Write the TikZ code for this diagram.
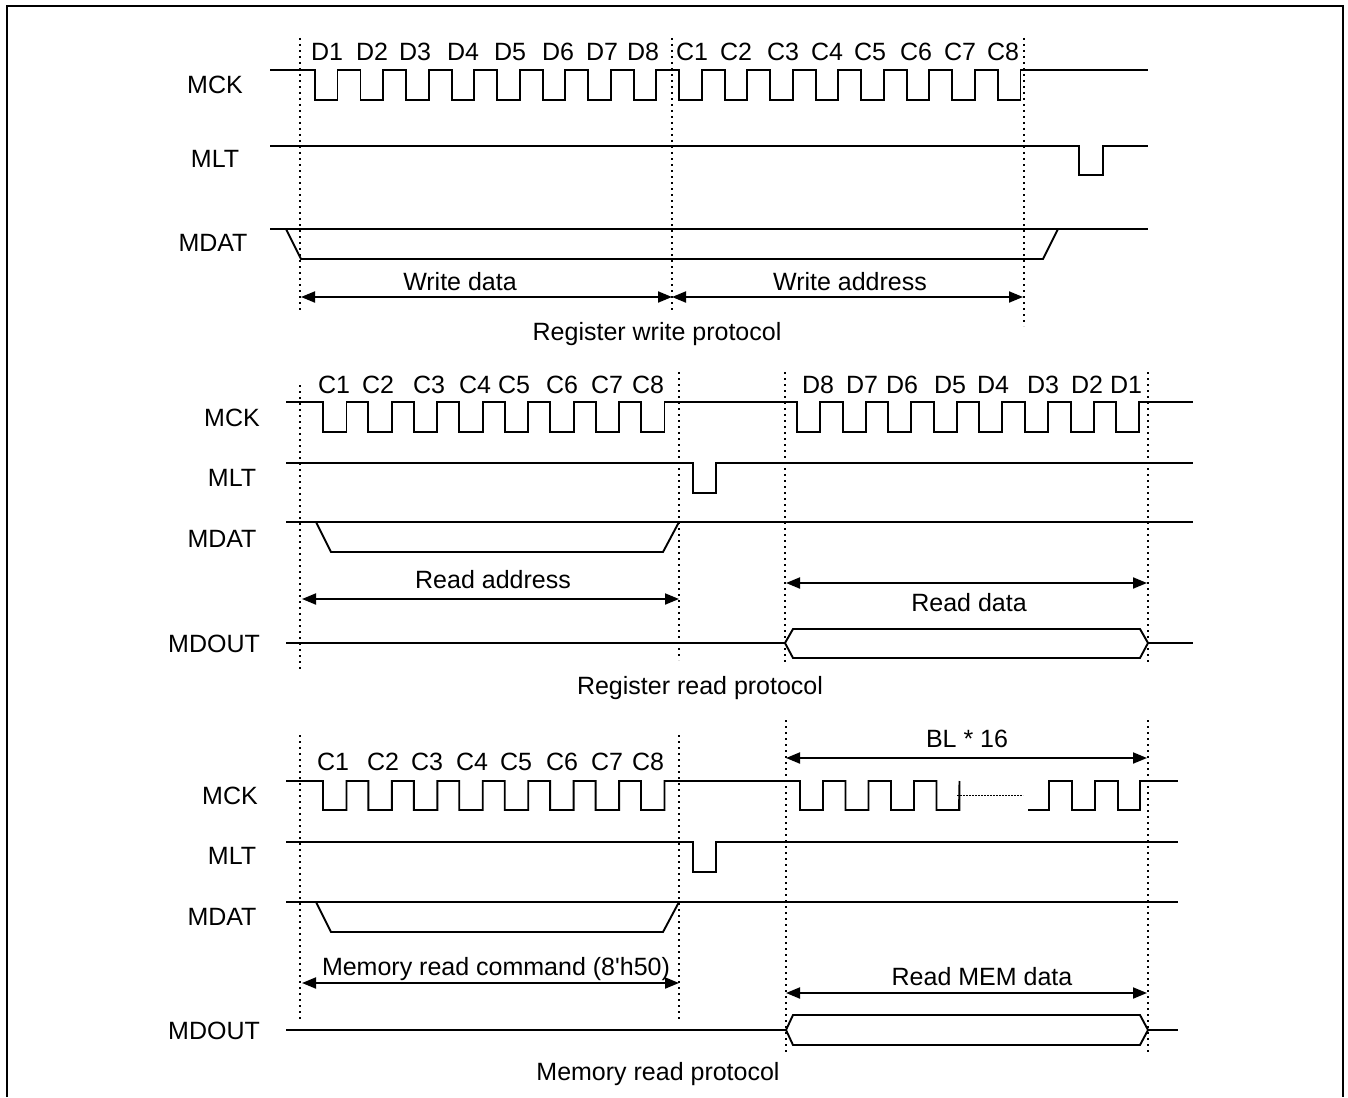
\documentclass[tikz,border=0pt]{standalone}
\usepackage{fontspec}
\setmainfont{Liberation Sans}
\usetikzlibrary{arrows.meta}
\begin{document}
\begin{tikzpicture}[x=1pt,y=-1pt,
  wave/.style={line width=1.9pt, line join=miter},
  guide/.style={line width=1.4pt, dash pattern=on 2.2pt off 3.8pt},
  dim/.style={line width=1.9pt, {Triangle[length=14pt,width=11pt]}-{Triangle[length=14pt,width=11pt]}},
  lbl/.style={font=\fontsize{25}{30}\selectfont, inner sep=0pt, anchor=base}]
\useasboundingbox (0,0) rectangle (1348,1097);
% frame
\draw[line width=2pt] (7,1097) -- (7,6) -- (1343,6) -- (1343,1097);

% ================= Register write protocol =================
\draw[guide] (300,38) -- (300,310);
\draw[guide] (672,38) -- (672,310);
\draw[guide] (1024,38) -- (1024,326);
\foreach \t/\x [count=\i from 0] in {D1/327,D2/372,D3/415,D4/463,D5/510,D6/558,D7/602,D8/643} {
  \node[lbl] (wd\i) at (\x,61) {\t};}
\foreach \t/\x [count=\i from 0] in {C1/692,C2/736,C3/783,C4/827,C5/870,C6/916,C7/960,C8/1003} {
  \node[lbl] (wc\i) at (\x,61) {\t};}
\node[lbl] (wmck) at (215,94) {MCK};
\node[lbl] (wmlt) at (215,167) {MLT};
\node[lbl] (wmdat) at (213,251) {MDAT};
\draw[wave] (270,70) foreach \i in {0,...,15} { -- ({315+45.53*\i},70) -- ++(0,30) -- ++(22.5,0) -- ++(0,-30) } -- (1148,70);
\draw[wave] (270,146) -- (1079,146) -- (1079,175) -- (1103,175) -- (1103,146) -- (1148,146);
\draw[wave] (270,229) -- (1148,229);
\draw[wave] (286,229) -- (301,259) -- (1043,259) -- (1058,229);
\coordinate (wa) at (301,297);
\coordinate (wb) at (672,297);
\coordinate (wc) at (1023,297);
\draw[dim] (wa) -- (wb);
\draw[dim] (wb) -- (wc);
\node[lbl] (wdata) at (460,290) {Write data};
\node[lbl] (waddr) at (850,290) {Write address};
\node[lbl] (wtitle) at (657,340) {Register write protocol};

% ================= Register read protocol =================
\draw[guide] (300,385) -- (300,672);
\draw[guide] (679,372) -- (679,660);
\draw[guide] (785,372) -- (785,665);
\draw[guide] (1148,372) -- (1148,665);
\foreach \t/\x [count=\i from 0] in {C1/334,C2/378,C3/429,C4/475,C5/514,C6/562,C7/607,C8/648} {
  \node[lbl] (rc\i) at (\x,393) {\t};}
\foreach \t/\x [count=\i from 0] in {D8/818,D7/862,D6/902,D5/950,D4/993,D3/1043,D2/1087,D1/1126} {
  \node[lbl] (rd\i) at (\x,393) {\t};}
\node[lbl] (rmck) at (232,426) {MCK};
\node[lbl] (rmlt) at (232,486) {MLT};
\node[lbl] (rmdat) at (222,547) {MDAT};
\node[lbl] (rmdout) at (214,652) {MDOUT};
\draw[wave] (286,402) foreach \i in {0,...,7} { -- ({323+45.43*\i},402) -- ++(0,30) -- ++(23.5,0) -- ++(0,-30) }
   foreach \i in {0,...,7} { -- ({797+45.6*\i},402) -- ++(0,30) -- ++(23,0) -- ++(0,-30) } -- (1193,402);
\draw[wave] (286,463) -- (693,463) -- (693,493) -- (716,493) -- (716,463) -- (1193,463);
\draw[wave] (286,522) -- (1193,522);
\draw[wave] (316,522) -- (331,552) -- (663,552) -- (679,522);
\draw[wave] (286,643) -- (785,643);
\draw[wave] (785,643) -- (793,629) -- (1140,629) -- (1148,643) -- (1140,658) -- (793,658) -- cycle;
\draw[wave] (1148,643) -- (1193,643);
\coordinate (ra) at (302,599);
\coordinate (rb) at (679,599);
\coordinate (rc) at (786,583);
\coordinate (rd) at (1147,583);
\draw[dim] (ra) -- (rb);
\draw[dim] (rc) -- (rd);
\node[lbl] (raddr) at (493,588) {Read address};
\node[lbl] (rdata) at (969,611) {Read data};
\node[lbl] (rtitle) at (700,694) {Register read protocol};

% ================= Memory read protocol =================
\draw[guide] (300,735) -- (300,1020);
\draw[guide] (679,735) -- (679,1022);
\draw[guide] (786,720) -- (786,1052);
\draw[guide] (1148,720) -- (1148,1052);
\foreach \t/\x [count=\i from 0] in {C1/333,C2/383,C3/427,C4/472,C5/516,C6/562,C7/607,C8/648} {
  \node[lbl] (mc\i) at (\x,770) {\t};}
\node[lbl] (mbl) at (967,747) {BL * 16};
\node[lbl] (mmck) at (230,804) {MCK};
\node[lbl] (mmlt) at (232,864) {MLT};
\node[lbl] (mmdat) at (222,925) {MDAT};
\node[lbl] (mmdout) at (214,1039) {MDOUT};
\coordinate (ma) at (786,758);
\coordinate (mb) at (1147,758);
\draw[dim] (ma) -- (mb);
\draw[wave] (286,781) foreach \i in {0,...,7} { -- ({323+45.43*\i},781) -- ++(0,29) -- ++(23.5,0) -- ++(0,-29) }
   foreach \i in {0,...,3} { -- ({800+45.5*\i},781) -- ++(0,29) -- ++(23,0) -- ++(0,-29) } -- (959,810);
\draw[line width=0.7pt, dash pattern=on 2pt off 1pt] (957,795) -- (1023,795);
\draw[wave] (1028,810) -- (1049,810) -- (1049,781) -- (1072,781) -- (1072,810) -- (1095,810) -- (1095,781)
   -- (1118,781) -- (1118,810) -- (1140,810) -- (1140,781) -- (1178,781);
\draw[wave] (286,842) -- (693,842) -- (693,872) -- (716,872) -- (716,842) -- (1178,842);
\draw[wave] (286,902) -- (1178,902);
\draw[wave] (316,902) -- (331,932) -- (663,932) -- (679,902);
\draw[wave] (286,1030) -- (786,1030);
\draw[wave] (786,1030) -- (793,1015) -- (1140,1015) -- (1148,1030) -- (1140,1045) -- (793,1045) -- cycle;
\draw[wave] (1148,1030) -- (1178,1030);
\coordinate (mc) at (302,983);
\coordinate (md) at (679,983);
\coordinate (me) at (786,993);
\coordinate (mf) at (1147,993);
\draw[dim] (mc) -- (md);
\draw[dim] (me) -- (mf);
\node[lbl] (mcmd) at (496,975) {Memory read command (8\textquotesingle h50)};
\node[lbl] (mmem) at (982,985) {Read MEM data};
\node[lbl] (mtitle) at (658,1080) {Memory read protocol};
\end{tikzpicture}
\end{document}
